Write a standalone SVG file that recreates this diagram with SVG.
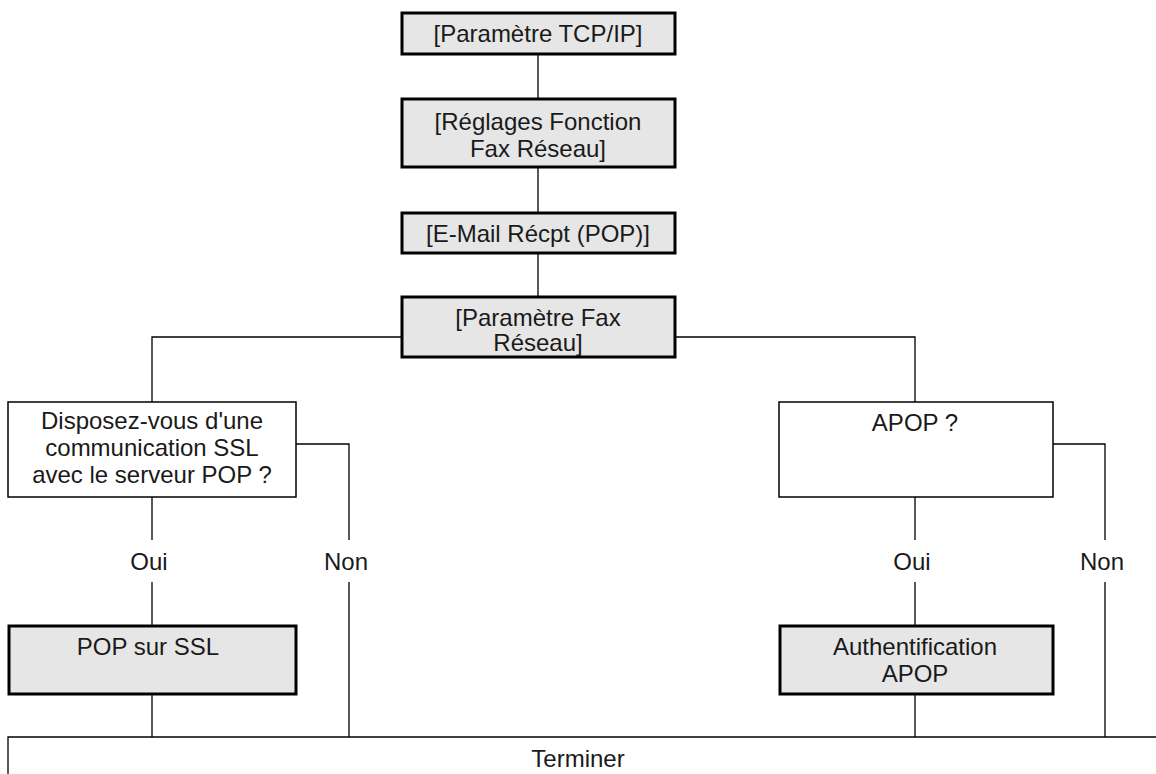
<svg xmlns="http://www.w3.org/2000/svg" width="1156" height="774" viewBox="0 0 1156 774">
<style>
.g{fill:#e6e6e6;stroke:#000;stroke-width:3}
.w{fill:#fff;stroke:#000;stroke-width:1.5}
.c{fill:none;stroke:#000;stroke-width:1.3}
text{font-family:"Liberation Sans",Arial,sans-serif;font-size:24px;fill:#1a1a1a;text-anchor:middle}
</style>
<rect width="1156" height="774" fill="#fff"/>
<g id="connectors">
<path class="c" d="M538 54V99M538 167V212M538 253V297"/>
<path class="c" d="M402 337H152V403M675 337H915V403"/>
<path class="c" d="M152 497V540M152 582V626M152 694V737"/>
<path class="c" d="M296 444H349V540M349 582V737"/>
<path class="c" d="M915 497V540M915 582V626M915 694V737"/>
<path class="c" d="M1053 444H1105V540M1105 582V737"/>
<path class="c" d="M8 774V737H1156"/>
</g>
<g id="n1"><rect class="g" x="402" y="13" width="273" height="41"/><text x="538" y="42">[Paramètre TCP/IP]</text></g>
<g id="n2"><rect class="g" x="402" y="99" width="273" height="68"/><text x="538" y="130">[Réglages Fonction</text><text x="538" y="157">Fax Réseau]</text></g>
<g id="n3"><rect class="g" x="402" y="213" width="273" height="40"/><text x="538" y="242">[E-Mail Récpt (POP)]</text></g>
<g id="n4"><rect class="g" x="402" y="297" width="273" height="60"/><text x="538" y="326">[Paramètre Fax</text><text x="538" y="351">Réseau]</text></g>
<g id="n5"><rect class="w" x="8" y="402" width="288" height="95"/><text x="152" y="429">Disposez-vous d'une</text><text x="152" y="456">communication SSL</text><text x="152" y="483">avec le serveur POP ?</text></g>
<g id="n6"><rect class="w" x="779" y="402" width="274" height="95"/><text x="915" y="431">APOP ?</text></g>
<g id="l1"><text x="149" y="570">Oui</text></g>
<g id="l2"><text x="346" y="570">Non</text></g>
<g id="l3"><text x="912" y="570">Oui</text></g>
<g id="l4"><text x="1102" y="570">Non</text></g>
<g id="n7"><rect class="g" x="9" y="626" width="287" height="68"/><text x="148" y="655">POP sur SSL</text></g>
<g id="n8"><rect class="g" x="780" y="626" width="273" height="68"/><text x="915" y="655">Authentification</text><text x="915" y="682">APOP</text></g>
<g id="n9"><text x="578" y="767">Terminer</text></g>
</svg>
